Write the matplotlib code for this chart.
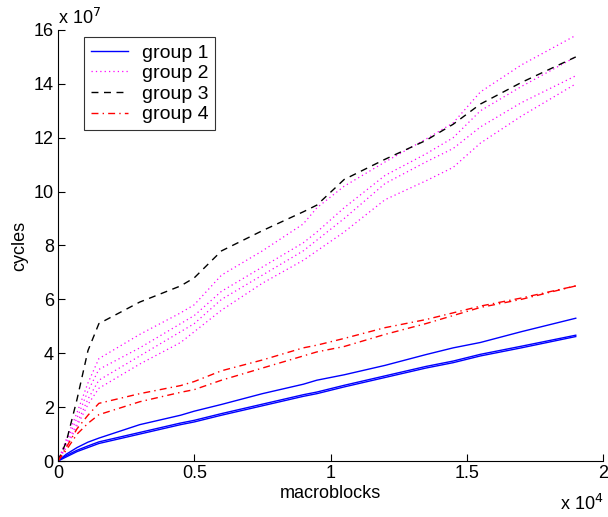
import matplotlib
matplotlib.use("Agg")
import matplotlib.pyplot as plt
from matplotlib.ticker import FuncFormatter

plt.rcParams["font.family"] = ["Liberation Sans", "DejaVu Sans"]

# macroblocks processed
macroblocks = [0, 300, 700, 1100, 1500, 3000, 4500, 5000, 6000, 7500,
               9000, 9500, 10500, 12000, 13500, 14500, 15500, 17000, 19000]

# cycles, in units of 1e7
group1 = [
    [0, 0.25, 0.5, 0.7, 0.85, 1.35, 1.7, 1.85, 2.1, 2.5,
     2.85, 3.0, 3.2, 3.55, 3.95, 4.2, 4.4, 4.8, 5.3],
    [0, 0.2, 0.4, 0.56, 0.71, 1.06, 1.41, 1.51, 1.76, 2.11,
     2.46, 2.56, 2.81, 3.16, 3.51, 3.71, 3.96, 4.26, 4.67],
    [0, 0.15, 0.35, 0.5, 0.65, 1.0, 1.35, 1.45, 1.7, 2.05,
     2.4, 2.5, 2.75, 3.1, 3.45, 3.65, 3.9, 4.2, 4.62],
]
group2 = [
    [0, 0.8, 1.8, 2.9, 3.8, 4.7, 5.5, 5.8, 6.9, 7.8,
     8.8, 9.4, 10.2, 11.1, 11.95, 12.55, 13.7, 14.7, 15.8],
    [0, 0.7, 1.6, 2.6, 3.4, 4.2, 5.1, 5.4, 6.3, 7.2,
     8.1, 8.5, 9.4, 10.6, 11.4, 12.0, 13.0, 13.9, 15.0],
    [0, 0.6, 1.4, 2.3, 3.0, 3.9, 4.8, 5.1, 6.0, 6.9,
     7.8, 8.2, 9.0, 10.3, 11.1, 11.6, 12.4, 13.3, 14.3],
    [0, 0.5, 1.3, 2.1, 2.7, 3.6, 4.4, 4.8, 5.6, 6.6,
     7.45, 7.8, 8.5, 9.7, 10.4, 10.9, 11.8, 12.8, 14.0],
]
group3 = [
    [0, 0.7, 2.3, 4.1, 5.1, 5.9, 6.5, 6.8, 7.8, 8.55,
     9.25, 9.5, 10.45, 11.2, 11.9, 12.5, 13.25, 14.05, 15.0],
]
group4 = [
    [0, 0.5, 1.2, 1.7, 2.14, 2.5, 2.8, 2.95, 3.35, 3.75,
     4.2, 4.3, 4.55, 4.95, 5.25, 5.5, 5.75, 6.05, 6.5],
    [0, 0.4, 1.0, 1.4, 1.72, 2.2, 2.55, 2.65, 3.0, 3.45,
     3.9, 4.05, 4.25, 4.7, 5.1, 5.4, 5.7, 6.0, 6.5],
]
labels = ["group 1", "group 2", "group 3", "group 4"]

fig = plt.figure(figsize=(6.08, 5.17), dpi=100)
ax = fig.add_axes([0.0954, 0.1083, 0.8964, 0.8337])

styles = [
    dict(color="blue", linestyle="-", lw=1.0),
    dict(color="magenta", linestyle=(0, (1, 2.5)), lw=0.9),
    dict(color="black", linestyle=(0, (5, 4)), lw=1.0),
    dict(color="red", linestyle=(0, (5, 3, 1, 3)), lw=1.0),
]
handles = []
for group, st in zip([group1, group2, group3, group4], styles):
    for i, ys in enumerate(group):
        ln, = ax.plot(macroblocks, ys, **st)
        if i == 0:
            handles.append(ln)

ax.set_xlim(0, 20000)
ax.set_ylim(0, 16)
ax.set_xticks([0, 5000, 10000, 15000, 20000])
ax.set_yticks(range(0, 17, 2))
ax.xaxis.set_major_formatter(FuncFormatter(lambda v, p: "%g" % (v / 1e4)))
ax.spines["top"].set_visible(False)
ax.spines["right"].set_visible(False)
ax.tick_params(direction="in", length=5, labelsize=13, pad=3)

ax.set_xlabel("macroblocks", fontsize=13, labelpad=2)
ax.set_ylabel("cycles", fontsize=13, labelpad=4)
ax.text(0, 1.005, "x 10$^7$", transform=ax.transAxes, fontsize=13,
        ha="left", va="bottom")
ax.text(1.0, -0.113, "x 10$^4$", transform=ax.transAxes, fontsize=13,
        ha="right", va="baseline")

leg = ax.legend(handles, labels, loc="upper left", bbox_to_anchor=(0.048, 0.983),
                fontsize=14, frameon=True, fancybox=False, edgecolor="black",
                borderpad=0.35, handlelength=1.9, labelspacing=0.15,
                handletextpad=0.7, borderaxespad=0)
leg.get_frame().set_linewidth(0.8)

fig.savefig("out.png", dpi=100)
